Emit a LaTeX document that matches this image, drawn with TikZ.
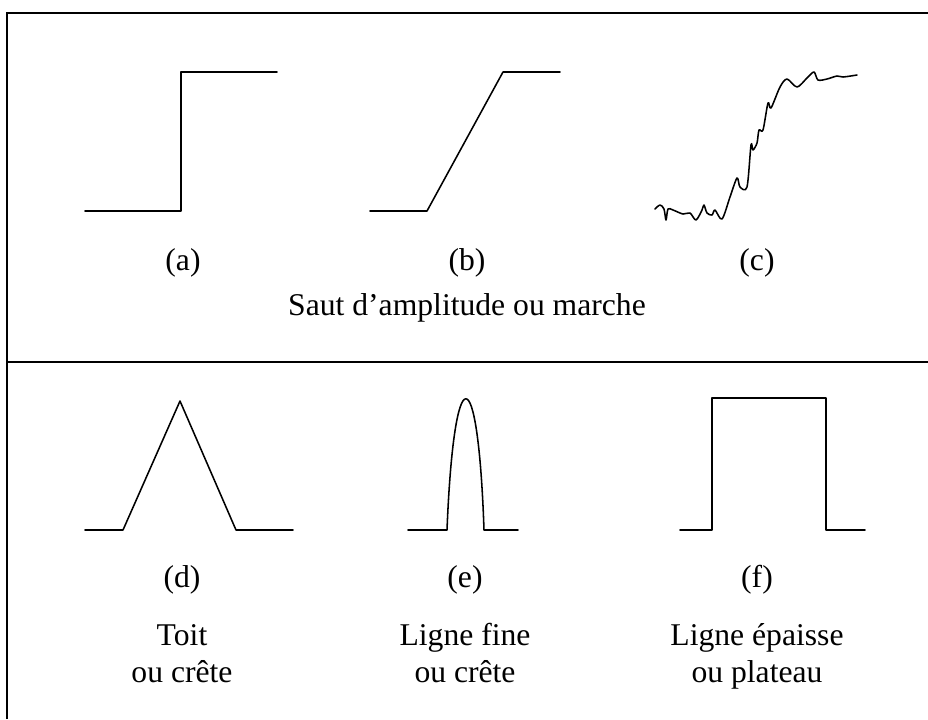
\documentclass[tikz,border=0pt]{standalone}
\usepackage{fontspec}
\setmainfont{Liberation Serif}
\begin{document}
\begin{tikzpicture}[x=0.025cm,y=-0.025cm,
    signal/.style={line width=1.1pt, line join=round, line cap=round},
    frameline/.style={line width=1pt},
    caption/.style={font=\fontsize{22.5}{27}\selectfont, inner sep=0pt, anchor=base}]
      \useasboundingbox (0,0) rectangle (928,719);

      % Frame
      \draw[frameline] (7,719) -- (7,13) -- (928,13);
      \draw[frameline] (7,362) -- (928,362);

      % Steps
      \draw[signal] (85,211) -- (181,211) -- (181,72) -- (277,72);
      \draw[signal] (370,211) -- (427,211) -- (503,72) -- (560,72);
      \draw[signal] plot[smooth, tension=0.5] coordinates {
        (655,209) (660,205) (664,209) (666,220) (668,209) (673,210)
        (683,214) (690,213) (696,220) (702,210) (704,205) (707,213)
        (712,215) (715,210) (722,219) (730,197) (737,178) (740,187)
        (747,187) (751,145) (753,150) (757,143) (759,130) (763,130)
        (768,103) (771,108) (780,87) (787,79) (797,87) (807,78)
        (814,72) (818,80) (827,79) (837,76) (843,77) (857,75)};

      % Peaks
      \draw[signal] (85,530) -- (123,530) -- (180,401) -- (236,530) -- (293,530);
      \draw[signal] (408,530) -- (447,530) .. controls (454,355) and (478,355) .. (484,530) -- (518,530);
      \draw[signal] (680,530) -- (712,530) -- (712,398) -- (826,398) -- (826,530) -- (865,530);

      % Labels
      \node[caption] (la) at (183,270) {(a)};
      \node[caption] (lb) at (467,270) {(b)};
      \node[caption] (lc) at (757,270) {(c)};
      \node[caption] (jump) at (467,315) {Saut d’amplitude ou marche};
      \node[caption] (ld) at (182,587) {(d)};
      \node[caption] (le) at (465,587) {(e)};
      \node[caption] (lf) at (757,587) {(f)};
      \node[caption] (roof) at (182,645) {Toit};
      \node[caption] (roofb) at (182,682) {ou crête};
      \node[caption] (thin) at (465,645) {Ligne fine};
      \node[caption] (thinb) at (465,682) {ou crête};
      \node[caption] (thick) at (757,645) {Ligne épaisse};
      \node[caption] (thickb) at (757,682) {ou plateau};
\end{tikzpicture}
\end{document}
